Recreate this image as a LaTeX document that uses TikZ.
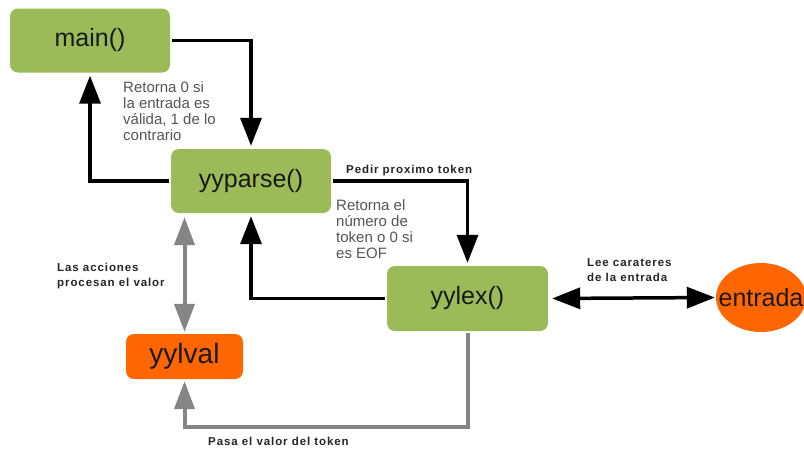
\documentclass[tikz,border=0pt]{standalone}
\usepackage{fontspec}
\setmainfont{Liberation Sans}
\newfontfamily\lblfont[LetterSpace=8]{Liberation Sans}
\usetikzlibrary{arrows.meta,shapes.geometric}
\definecolor{boxgreen}{HTML}{9BBB59}
\definecolor{boxorange}{HTML}{FF6600}
\definecolor{notegray}{HTML}{555555}
\definecolor{linegray}{HTML}{858585}
\begin{document}
\begin{tikzpicture}[x=1pt,y=-1pt,
  box/.style={fill=boxgreen, rounded corners=8pt, minimum width=160pt, minimum height=64pt,
    font=\fontsize{25}{30}\selectfont, text=black!90, inner sep=0pt},
  obox/.style={fill=boxorange, rounded corners=8pt, minimum width=117pt, minimum height=45pt,
    font=\fontsize{28}{32}\selectfont, text=black!90, inner sep=0pt},
  blk/.style={line width=3.5pt, -{Triangle[length=28pt,width=21pt]}, shorten >=3pt, shorten <=2pt},
  blkboth/.style={line width=3.5pt, {Triangle[length=28pt,width=21pt]}-{Triangle[length=28pt,width=21pt]}},
  gry/.style={draw=linegray, line width=4pt, color=linegray},
  note/.style={font=\fontsize{15}{16}\selectfont, text=notegray, align=left, inner sep=0pt, anchor=north west},
  lbl/.style={font=\lblfont\bfseries\fontsize{11.5}{15}\selectfont, text=black!85, align=left, inner sep=0pt}
]
\clip (0,0) rectangle (804,448);
\fill[white] (0,0) rectangle (804,448);

\node[box] (main) at (90,40.5) {main()};
\node[box] (parse) at (251,181) {yyparse()};
\node[box, minimum width=161pt, minimum height=65pt] (lex) at (467.5,298.5) {yylex()};
\node[obox] (val) at (184.5,356.5) {yylval};
\node[ellipse, fill=boxorange, minimum width=90pt, minimum height=69pt, inner sep=0pt,
  label={[font=\fontsize{25}{30}\selectfont, text=black!90, inner sep=0pt]center:entrada}] (in) at (761,297.5) {};
\coordinate (bot) at (300,427);

\draw[blk] (main.east) -| (parse.north);
\draw[blk] (parse.west) -| (main.south);
\draw[blk] (parse.east) -| (lex.north);
\draw[blk] (lex.west) -| (parse.south);
\draw[blkboth, shorten <=4pt, shorten >=1pt] (lex.east) -- (in.west);

\draw[gry, {Triangle[length=28pt,width=20pt]}-{Triangle[length=28pt,width=20pt]}, shorten <=4pt, shorten >=2pt]
  (val.north |- parse.south) -- (val.north);
\draw[gry, -{Triangle[length=28pt,width=20pt]}, shorten <=2pt, shorten >=2pt]
  (lex.south) |- (bot) -| (val.south);

\node[note] (n1) at (123,81) {Retorna 0 si\\la entrada es\\válida, 1 de lo\\contrario};
\node[note] (n2) at (336,199) {Retorna el\\número de\\token o 0 si\\es EOF};
\node[lbl, anchor=base west] (l1) at (346,173) {Pedir proximo token};
\node[lbl, anchor=north west] (l2) at (587,258) {Lee carateres\\de la entrada};
\node[lbl, anchor=north west] (l3) at (57,263) {Las acciones\\procesan el valor};
\node[lbl, anchor=west] (l4) at (208,441) {Pasa el valor del token};
\end{tikzpicture}
\end{document}
